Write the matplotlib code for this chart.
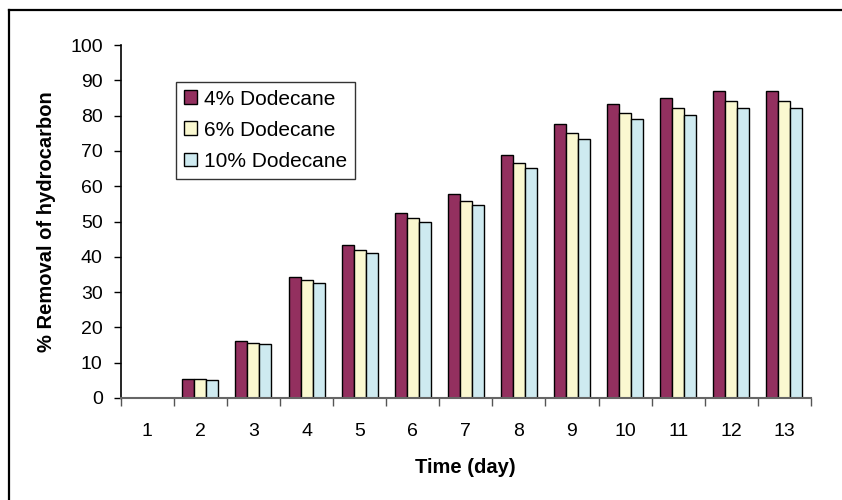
import matplotlib.pyplot as plt
import numpy as np
from matplotlib.lines import Line2D

days = ["1", "2", "3", "4", "5", "6", "7", "8", "9", "10", "11", "12", "13"]
dodecane_4 = [0, 5.3, 16.1, 34.3, 43.3, 52.4, 57.7, 68.8, 77.7, 83.2, 85.0, 86.9, 86.9]
dodecane_6 = [0, 5.3, 15.7, 33.4, 42.0, 50.9, 55.9, 66.6, 75.2, 80.7, 82.1, 84.0, 84.0]
dodecane_10 = [0, 5.0, 15.4, 32.6, 41.2, 49.8, 54.8, 65.2, 73.4, 78.9, 80.3, 82.1, 82.1]
series_labels = ["4% Dodecane", "6% Dodecane", "10% Dodecane"]
series_colors = ["#93305F", "#FAF8D0", "#CEEAF0"]

plt.rcParams["font.family"] = ["Liberation Sans", "DejaVu Sans"]

fig = plt.figure(figsize=(8.42, 5.0), dpi=100)
ax = fig.add_axes([0.1434, 0.204, 0.8196, 0.706])

x = np.arange(len(days))
bar_w = 0.226
for k, (vals, lab, col) in enumerate(zip([dodecane_4, dodecane_6, dodecane_10], series_labels, series_colors)):
    ax.bar(x + (k - 1) * bar_w, vals, width=bar_w, color=col, edgecolor="black",
           linewidth=1.0, label=lab)

ax.set_xlim(-0.5, len(days) - 0.5)
ax.set_ylim(0, 100)
ax.set_yticks(np.arange(0, 101, 10))

# category labels centered, tick marks on category boundaries
ax.set_xticks(x)
ax.set_xticklabels(days)
ax.tick_params(axis="x", which="major", length=0, pad=18, labelsize=14)
ax.set_xticks(np.arange(-0.5, len(days)), minor=True)
ax.tick_params(axis="x", which="minor", length=6, width=1, color="#555555", direction="out")
ax.tick_params(axis="y", length=5, width=1, pad=8, labelsize=14)

for side in ["top", "right"]:
    ax.spines[side].set_visible(False)
ax.spines["left"].set_linewidth(1.2)
ax.spines["bottom"].set_color("#666666")
ax.spines["bottom"].set_linewidth(1.5)

ax.set_xlabel("Time (day)", fontsize=14.5, fontweight="bold", labelpad=13)
ax.set_ylabel("% Removal of hydrocarbon", fontsize=14.5, fontweight="bold", labelpad=10)

leg = ax.legend(loc="upper left", bbox_to_anchor=(0.080, 0.896), borderaxespad=0,
                fancybox=False, frameon=True, edgecolor="black", fontsize=15,
                handlelength=0.65, handleheight=0.65, handletextpad=0.3,
                labelspacing=0.58, borderpad=0.38)
leg.get_frame().set_linewidth(1.0)

# outer chart frame (left and top edges visible)
fig.add_artist(Line2D([8.5 / 842, 8.5 / 842], [0, 1 - 10 / 500], transform=fig.transFigure,
                      color="black", linewidth=1.6))
fig.add_artist(Line2D([8.5 / 842, 1], [1 - 10 / 500, 1 - 10 / 500], transform=fig.transFigure,
                      color="black", linewidth=1.6))

plt.savefig("out.png", dpi=100)
plt.close()
